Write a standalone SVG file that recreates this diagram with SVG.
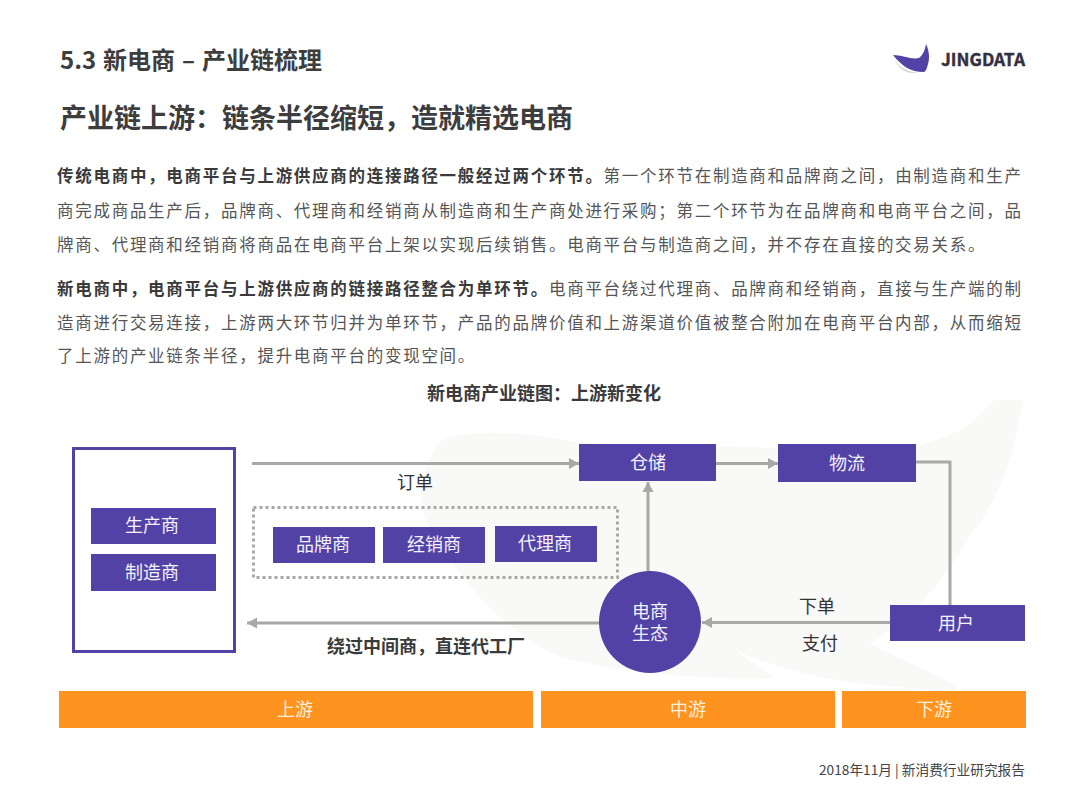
<svg xmlns="http://www.w3.org/2000/svg" width="1080" height="810" viewBox="0 0 1080 810">
<style>
text{font-family:"Noto Sans CJK SC","Noto Sans",sans-serif}
.b{font-size:16.5px;letter-spacing:1.72px;fill:#555}
.bb{font-weight:700;fill:#3a3a3a}
.n{fill:#5342a6}
.w{font-size:18px;fill:#f4f2fb;text-anchor:middle}
.o{fill:#ff9320}
.ow{font-size:18px;fill:#fff0dc;text-anchor:middle}
.l{font-size:18px;fill:#333;text-anchor:middle}
.c{fill:none;stroke:#a8a8a5;stroke-width:3}
.eco{font-family:"Liberation Sans","Noto Sans CJK SC",sans-serif}
</style>
<defs>
<marker id="a" markerUnits="userSpaceOnUse" markerWidth="12" markerHeight="14" refX="10" refY="7" orient="auto"><path d="M0,1.500 L10,7 L0,12.500 Z" fill="#a8a8a5"/></marker>
</defs>
<rect width="1080" height="810" fill="#fff"/>
<g id="watermark" fill="#f9f9f7">
<path d="M442,440 C465,430 520,430 580,443 L866,450 C900,452 930,445 960,430 C975,420 985,410 993,400 L1023,400 C1015,450 1000,500 972,533 C950,570 915,620 870,643 C900,660 935,672 957,687 L955,690 C880,688 800,680 735,650 C755,665 770,672 772,678 C690,680 620,672 560,657 C500,630 450,570 423,513 C415,490 430,450 442,440 Z"/>
</g>
<g id="header">
<text x="60" y="69" font-size="24" font-weight="700" fill="#3d3d3d" word-spacing="1.500">5.3 新电商 – 产业链梳理</text>
<text x="60" y="128" font-size="27" font-weight="700" fill="#3d3d3d">产业链上游&#xFF1A;链条半径缩短&#xFF0C;造就精选电商</text>
</g>
<g id="logo">
<path d="M895,60 C899,67 907,72 920,73 L910,73 C902,71 897,66 895,60 Z" fill="#d8d8d8"/>
<path d="M893,55 C902,55 912,60 919,58 C923,55 925,50 926,44 C929,50 930,58 928,64 C927,68 926,71 924,72 C910,72 902,66 893,55 Z" fill="#5342a6"/>
<text x="941" y="65.500" font-size="17.500" font-weight="700" fill="#33303f" stroke="#33303f" stroke-width=".4" font-family="'Noto Sans',sans-serif" textLength="84" lengthAdjust="spacingAndGlyphs">JINGDATA</text>
</g>
<g id="body">
<text class="b" x="57" y="182"><tspan class="bb">传统电商中&#xFF0C;电商平台与上游供应商的连接路径一般经过两个环节。</tspan>第一个环节在制造商和品牌商之间&#xFF0C;由制造商和生产</text>
<text class="b" x="57" y="217">商完成商品生产后&#xFF0C;品牌商、代理商和经销商从制造商和生产商处进行采购&#xFF1B;第二个环节为在品牌商和电商平台之间&#xFF0C;品</text>
<text class="b" x="57" y="251">牌商、代理商和经销商将商品在电商平台上架以实现后续销售。电商平台与制造商之间&#xFF0C;并不存在直接的交易关系。</text>
<text class="b" x="57" y="295"><tspan class="bb">新电商中&#xFF0C;电商平台与上游供应商的链接路径整合为单环节。</tspan>电商平台绕过代理商、品牌商和经销商&#xFF0C;直接与生产端的制</text>
<text class="b" x="57" y="329">造商进行交易连接&#xFF0C;上游两大环节归并为单环节&#xFF0C;产品的品牌价值和上游渠道价值被整合附加在电商平台内部&#xFF0C;从而缩短</text>
<text class="b" x="57" y="362">了上游的产业链条半径&#xFF0C;提升电商平台的变现空间。</text>
<text x="544" y="400" font-size="18" font-weight="700" fill="#3a3a3a" text-anchor="middle">新电商产业链图&#xFF1A;上游新变化</text>
</g>
<g id="connectors">
<path class="c" marker-end="url(#a)" d="M252,463.500 H579"/>
<path class="c" marker-end="url(#a)" d="M716,463.500 H778"/>
<path class="c" d="M916,462 H950 V605"/>
<path class="c" marker-end="url(#a)" d="M648,572 V482"/>
<path class="c" marker-end="url(#a)" d="M890,622.500 H702"/>
<path class="c" marker-end="url(#a)" d="M600,623 H247"/>
<rect x="253.500" y="507.500" width="364" height="70" fill="none" stroke="#a8a8a5" stroke-width="3" stroke-dasharray="3 3"/>
</g>
<g id="box-factory"><rect x="73.500" y="448.500" width="161" height="203" fill="#fff" stroke="#5342a6" stroke-width="3"/></g>
<g id="n-producer"><rect class="n" x="91" y="508" width="125" height="36"/><text class="w" x="152" y="532">生产商</text></g>
<g id="n-maker"><rect class="n" x="91" y="554" width="125" height="37"/><text class="w" x="152" y="579">制造商</text></g>
<g id="n-brand"><rect class="n" x="273" y="527" width="102" height="36"/><text class="w" x="323" y="551">品牌商</text></g>
<g id="n-dealer"><rect class="n" x="383" y="527" width="102" height="36"/><text class="w" x="434" y="551">经销商</text></g>
<g id="n-agent"><rect class="n" x="495" y="526" width="102" height="36"/><text class="w" x="545" y="550">代理商</text></g>
<g id="n-storage"><rect class="n" x="579" y="444" width="137" height="37"/><text class="w" x="648" y="469">仓储</text></g>
<g id="n-logistics"><rect class="n" x="778" y="444" width="138" height="38"/><text class="w" x="847" y="470">物流</text></g>
<g id="n-user"><rect class="n" x="890" y="605" width="135" height="36"/><text class="w" x="956" y="630">用户</text></g>
<g id="n-eco"><circle class="n" cx="650" cy="622" r="51"/><text class="w eco"><tspan x="650" y="618">电商</tspan><tspan x="650" y="640">生态</tspan></text></g>
<g id="labels">
<text class="l" x="415" y="489">订单</text>
<text x="426" y="653" font-size="18" font-weight="700" fill="#3a3a3a" text-anchor="middle">绕过中间商&#xFF0C;直连代工厂</text>
<text class="l" x="817" y="613">下单</text>
<text class="l" x="820" y="650">支付</text>
</g>
<g id="stage-up"><rect class="o" x="59" y="691" width="474" height="37"/><text class="ow" x="295" y="716">上游</text></g>
<g id="stage-mid"><rect class="o" x="541" y="691" width="294" height="37"/><text class="ow" x="688" y="716">中游</text></g>
<g id="stage-down"><rect class="o" x="842" y="691" width="184" height="37"/><text class="ow" x="934" y="716">下游</text></g>
<text x="1025" y="775" font-size="13.700" fill="#444" text-anchor="end">2018年11月 | 新消费行业研究报告</text>
</svg>
